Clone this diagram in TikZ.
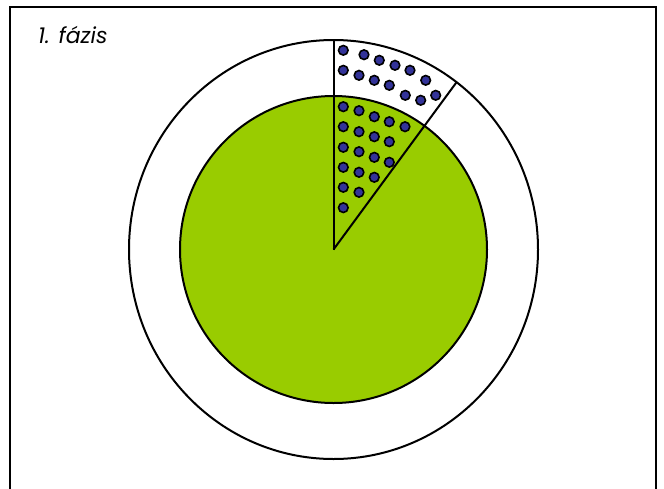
\documentclass[tikz,border=0pt]{standalone}
\usepackage{fontspec}
\newfontfamily\phasefont{Poppins}
\definecolor{leafgreen}{HTML}{99CC00}
\definecolor{dotblue}{HTML}{333399}

\begin{document}
\begin{tikzpicture}[
  x=1pt, y=-1pt,
  ring/.style={draw, line width=2pt},
  dot/.style={circle, draw, fill=dotblue, line width=1.6pt, minimum size=9.6pt, inner sep=0pt},
  phase/.style={font=\phasefont\itshape\fontsize{22}{25}\selectfont, anchor=base west, inner sep=0pt}
  ]
  \useasboundingbox (0,0) rectangle (664,488);
  % ========== frame and title ==========
  \draw[line width=2pt] (10,492) -- (10,7) -- (656,7) -- (656,492);
  \node[phase] (title) at (38,43.5) {1. fázis};

  % ========== outer ring and inner disc ==========
  \coordinate (C) at (333.5,249.5);
  \coordinate (top) at ([shift={(-90:204.5 and 209.5)}]C);
  \coordinate (edge) at ([shift={(-53:204.5 and 209.5)}]C);
  \draw[ring, fill=white] (C) ellipse [x radius=204.5, y radius=209.5];
  \draw[ring, fill=leafgreen] (C) circle [radius=153.5];
  \draw[ring] (C) -- (top);
  \draw[ring] (C) -- (edge);

  % ========== dots in the slice ==========
  \foreach \x/\y [count=\i] in {
      343.3/50.3, 364/54.7, 379.3/60.3, 395/65.3, 410/70.3, 425.7/80.3, 435.7/95.3,
      343.3/70.3, 359/75.3, 374.3/80.3, 389.3/85.3, 405.3/95.3, 420.7/100.3,
      343.3/106.7, 359/110.7, 374.3/116.7, 389.3/121.7, 405/126.7,
      343.3/126.7, 359/131.7, 374.3/136.7, 389.3/141.7,
      343.3/147.3, 359/151.7, 374.3/157.3, 389.3/162.3,
      343.3/167.3, 359/172.3, 374.3/177.3,
      343.3/187.3, 359/192.3,
      343.3/207.7}
    \node[dot] (dot\i) at (\x,\y) {};
\end{tikzpicture}
\end{document}
